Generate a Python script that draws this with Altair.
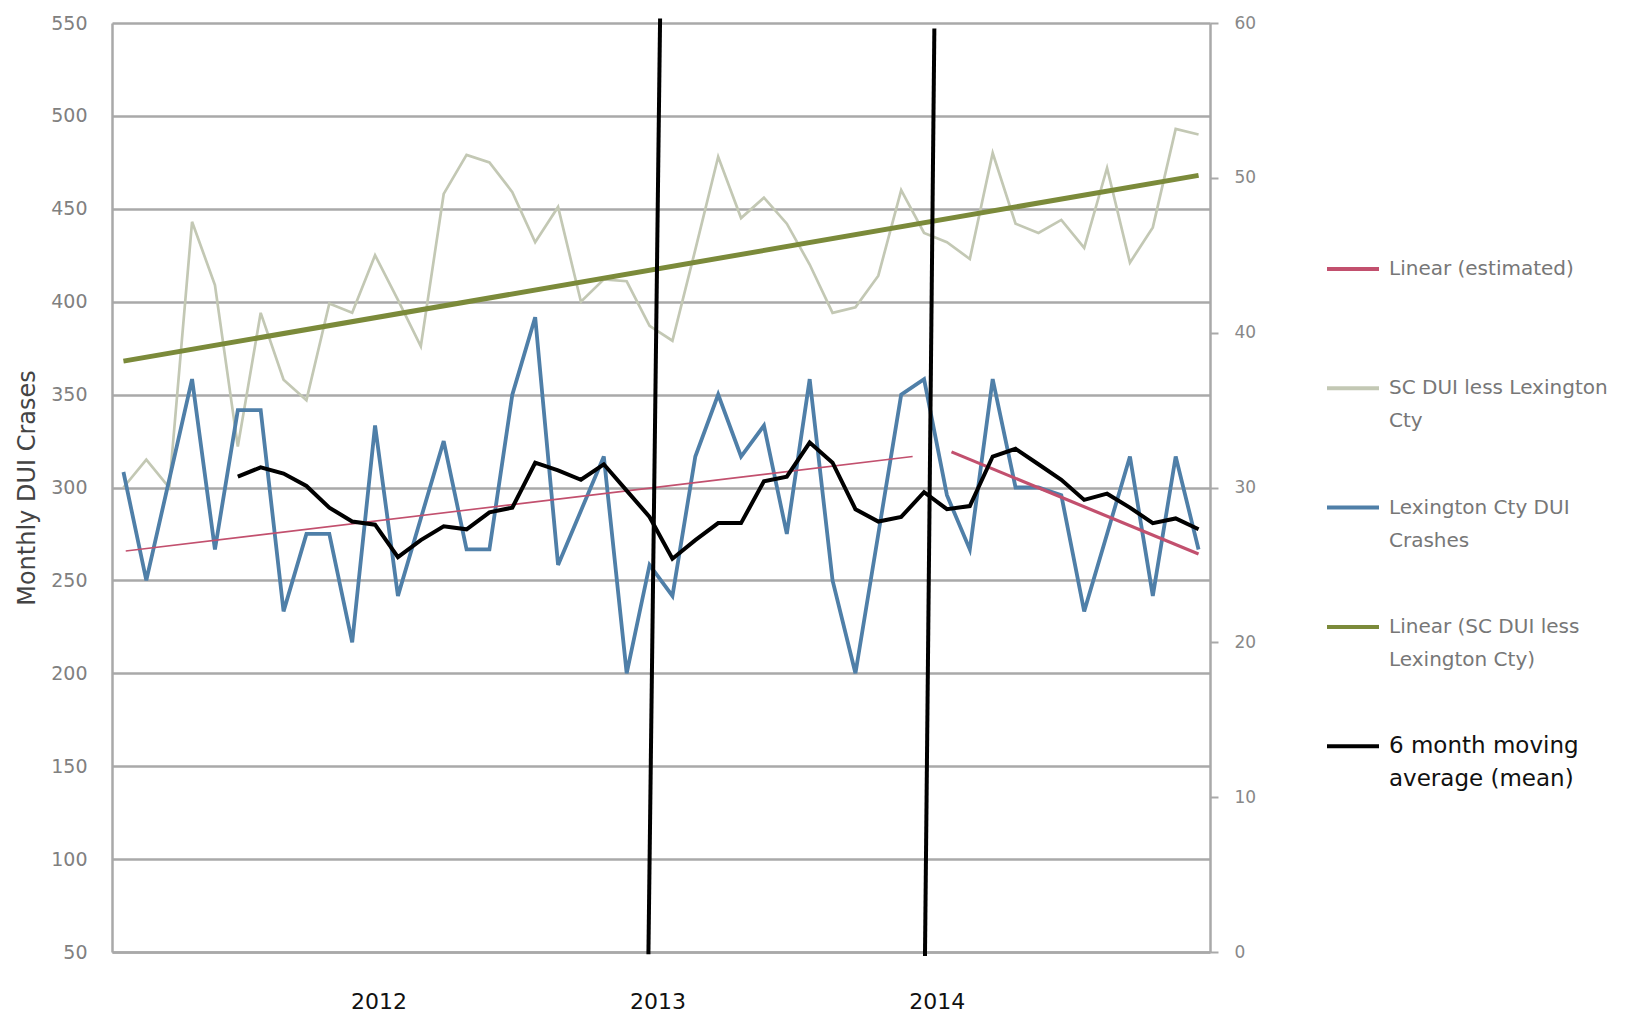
import altair as alt
import pandas as pd

# ---------------- data ----------------
months = list(range(48))  # monthly categories, index 0..47

# SC DUI less Lexington Cty (left axis)
sc_dui = [300, 315, 300, 443, 409, 322, 394, 358, 347, 399, 394, 425,
          401, 376, 458, 479, 475, 459, 432, 451, 400, 412, 411, 387,
          379, 428, 478, 445, 456, 442, 420, 394, 397, 414, 460, 437,
          432, 423, 480, 442, 437, 444, 429, 472, 421, 440, 493, 490]

# Lexington Cty DUI Crashes (right axis)
lex_dui = [31, 24, 30.5, 37, 26, 35, 35, 22, 27, 27, 20, 34,
           23, 28, 33, 26, 26, 36, 41, 25, 28.5, 32, 18, 25,
           23, 32, 36, 32, 34, 27, 37, 24, 18, 27, 36, 37,
           29.5, 26, 37, 30, 30, 29.5, 22, 27, 32, 23, 32, 26]

# 6 month moving average (mean) (right axis), from month index 5
ma_months = list(range(5, 48))
ma_values = [30.7, 31.3, 30.9, 30.1, 28.7, 27.8, 27.6, 25.5, 26.6, 27.5, 27.3,
             28.4, 28.7, 31.6, 31.1, 30.5, 31.5, 29.8, 28.1, 25.4, 26.6, 27.7,
             27.7, 30.4, 30.7, 32.9, 31.6, 28.6, 27.8, 28.1, 29.7, 28.6, 28.8,
             32.0, 32.5, 31.5, 30.5, 29.2, 29.6, 28.7, 27.7, 28.0, 27.3]

# Linear (SC DUI less Lexington Cty) trend end points (left axis)
green_x = [0, 47]
green_y = [368, 468]

# Linear (estimated) trend segments (right axis)
pink1_x = [0.1, 34.5]
pink1_y = [25.9, 32.0]
pink2_x = [36.2, 47]
pink2_y = [32.3, 25.7]

# hand-drawn vertical markers (left-axis units)
mark_x_top = [23.46, 35.45]
mark_x_bottom = [22.95, 35.04]
mark_y_top = [552.4, 547.0]
mark_y_bottom = [48.8, 47.8]

# x-axis year labels and their positions
year_labels = ["2012", "2013", "2014"]
year_pos = [11.15, 23.35, 35.55]

left_ticks = list(range(50, 551, 50))
right_ticks = list(range(0, 61, 10))

series_names = ["Linear (estimated)", "SC DUI less Lexington Cty",
                "Lexington Cty DUI Crashes", "Linear (SC DUI less Lexington Cty)",
                "6 month moving average (mean)"]
series_colors = ["#c2506e", "#c3c8b4", "#4f7fa8", "#7b8a3a", "#000000"]

# ---------------- frames ----------------
sc_df = pd.DataFrame({"month": months, "value": sc_dui, "series": series_names[1]})
lex_df = pd.DataFrame({"month": months, "value": lex_dui, "series": series_names[2]})
ma_df = pd.DataFrame({"month": ma_months, "value": ma_values, "series": series_names[4]})
green_df = pd.DataFrame({"month": green_x, "value": green_y, "series": series_names[3]})
pink1_df = pd.DataFrame({"month": pink1_x, "value": pink1_y, "series": series_names[0]})
pink2_df = pd.DataFrame({"month": pink2_x, "value": pink2_y, "series": series_names[0]})
marks_df = pd.DataFrame({"xt": mark_x_top, "xb": mark_x_bottom,
                         "yt": mark_y_top, "yb": mark_y_bottom})

FONT = "DejaVu Sans"
GRID = "#a9a9a9"

label_expr = " : ".join(
    [f"datum.value < {(year_pos[i] + year_pos[i + 1]) / 2} ? '{year_labels[i]}'"
     for i in range(len(year_labels) - 1)] + [f"'{year_labels[-1]}'"])

x_enc = alt.X("month:Q",
              scale=alt.Scale(domain=[-0.5, 47.5], nice=False, zero=False),
              axis=alt.Axis(values=year_pos, labelExpr=label_expr, title=None,
                            ticks=False, grid=False, domainColor=GRID, domainWidth=2.5,
                            labelFont=FONT, labelFontSize=22, labelColor="#111111",
                            labelPadding=39))

legend_expr = ("datum.label == 'Linear (estimated)' ? ['Linear (estimated)', ' '] : "
               "datum.label == 'SC DUI less Lexington Cty' ? ['SC DUI less Lexington', 'Cty'] : "
               "datum.label == 'Lexington Cty DUI Crashes' ? ['Lexington Cty DUI', 'Crashes'] : "
               "datum.label == 'Linear (SC DUI less Lexington Cty)' ? ['Linear (SC DUI less', 'Lexington Cty)'] : "
               "datum.label == '6 month moving average (mean)' ? ['6 month moving', 'average (mean)'] : datum.label")

MA_NAME = series_names[4]
color_enc = alt.Color("series:N",
                      scale=alt.Scale(domain=series_names, range=series_colors),
                      legend=alt.Legend(title=None, orient="none", legendX=1213, legendY=218,
                                        symbolType="stroke", symbolStrokeWidth=4,
                                        symbolSize=2704, labelFont=FONT,
                                        labelFontSize=alt.ExprRef(f"datum.value == '{MA_NAME}' ? 23 : 20"),
                                        labelColor=alt.ExprRef(f"datum.value == '{MA_NAME}' ? '#111111' : '#777777'"),
                                        labelLimit=400, labelOffset=8,
                                        rowPadding=48.3, padding=0, labelExpr=legend_expr))

left_scale = alt.Scale(domain=[50, 550], nice=False, zero=False)
right_scale = alt.Scale(domain=[0, 60], nice=False, zero=False)

left_y = alt.Y("value:Q", scale=left_scale,
               axis=alt.Axis(values=left_ticks, title="Monthly DUI Crases", grid=True,
                             gridColor=GRID, gridWidth=2.5, ticks=False,
                             domainColor=GRID, domainWidth=2.5,
                             labelFont=FONT, labelFontSize=19, labelColor="#808080",
                             labelPadding=25, titleFont=FONT, titleFontSize=24,
                             titleColor="#444444", titleFontWeight="normal",
                             titlePadding=11))

right_y = alt.Y("value:Q", scale=right_scale,
                axis=alt.Axis(orient="right", values=right_ticks, title=None, grid=False,
                              ticks=True, tickSize=8, tickColor=GRID, tickWidth=2,
                              domainColor=GRID, domainWidth=2.5,
                              labelFont=FONT, labelFontSize=17, labelColor="#888888",
                              labelPadding=16))

sc_line = alt.Chart(sc_df).mark_line(strokeWidth=2.7).encode(x=x_enc, y=left_y, color=color_enc)
green_line = alt.Chart(green_df).mark_line(strokeWidth=5).encode(x="month:Q", y="value:Q", color="series:N")
left_group = alt.layer(sc_line, green_line)

lex_line = alt.Chart(lex_df).mark_line(strokeWidth=3.8).encode(x="month:Q", y=right_y, color="series:N")
pink1_line = alt.Chart(pink1_df).mark_line(strokeWidth=1.6).encode(x="month:Q", y="value:Q", color="series:N")
pink2_line = alt.Chart(pink2_df).mark_line(strokeWidth=3.2).encode(x="month:Q", y="value:Q", color="series:N")
ma_line = alt.Chart(ma_df).mark_line(strokeWidth=4).encode(x="month:Q", y="value:Q", color="series:N")
right_group = alt.layer(lex_line, pink1_line, pink2_line, ma_line)

markers = alt.Chart(marks_df).mark_rule(color="#000000", strokeWidth=4, clip=False).encode(
    x="xt:Q", x2="xb:Q",
    y=alt.Y("yt:Q", scale=alt.Scale(domain=[50, 550], nice=False, zero=False), axis=None),
    y2="yb:Q")

chart = alt.layer(left_group, right_group, markers).resolve_scale(
    y="independent"
).properties(
    width=1098, height=929,
    autosize=alt.AutoSizeParams(type="none"),
    padding={"left": 104, "top": 15, "right": 414, "bottom": 68},
    background="white",
).configure_view(stroke=None).configure(style={"guide-label": {"lineHeight": 33}})

chart.save("out.html", embed_options={"renderer": "svg", "actions": False})
